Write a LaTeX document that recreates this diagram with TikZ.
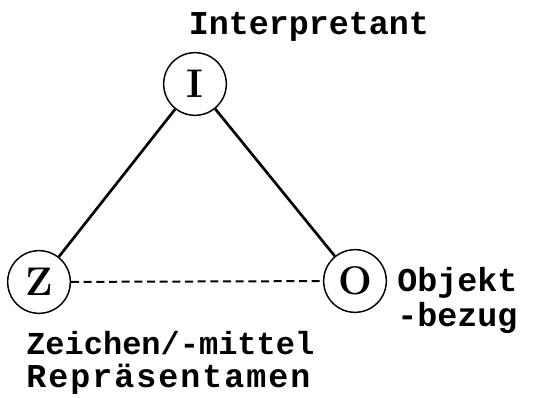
\documentclass[tikz,border=0pt]{standalone}
\usepackage{fontspec}
\newfontfamily\labelfont{Liberation Mono}
\newfontfamily\widefont[LetterSpace=6]{Liberation Mono}
\tikzset{
  corner/.style={circle, draw, line width=1.1pt, minimum size=47pt, inner sep=0pt,
    font=\fontsize{30}{32}\selectfont\bfseries},
  caption/.style={inner sep=0pt, font=\fontsize{25}{28}\labelfont\bfseries},
  side/.style={line width=2pt},
}
\begin{document}
\begin{tikzpicture}[x=0.75pt, y=-0.75pt]
\useasboundingbox (0,0) rectangle (533,398);
\node[corner] (I) at (195,84) {I};
\node[corner] (Z) at (39,282) {Z};
\node[corner] (O) at (355,281) {O};
\node[caption] (interp) at (309,27) {Interpretant};
\node[caption, anchor=west] (objekt) at (397,283) {Objekt};
\node[caption, anchor=west] (bezug) at (397,318) {-bezug};
\node[caption, anchor=west, font=\fontsize{24}{28}\labelfont\bfseries] (zeichen) at (26,343) {Zeichen/-mittel};
\node[caption, anchor=west, font=\fontsize{25}{28}\widefont\bfseries] (repr) at (26,379) {Repräsentamen};
\draw[side] (I) -- (Z);
\draw[side] (I) -- (O);
\draw[dash pattern=on 6pt off 3.5pt, line width=1.5pt] (Z) -- (O);
\end{tikzpicture}
\end{document}
